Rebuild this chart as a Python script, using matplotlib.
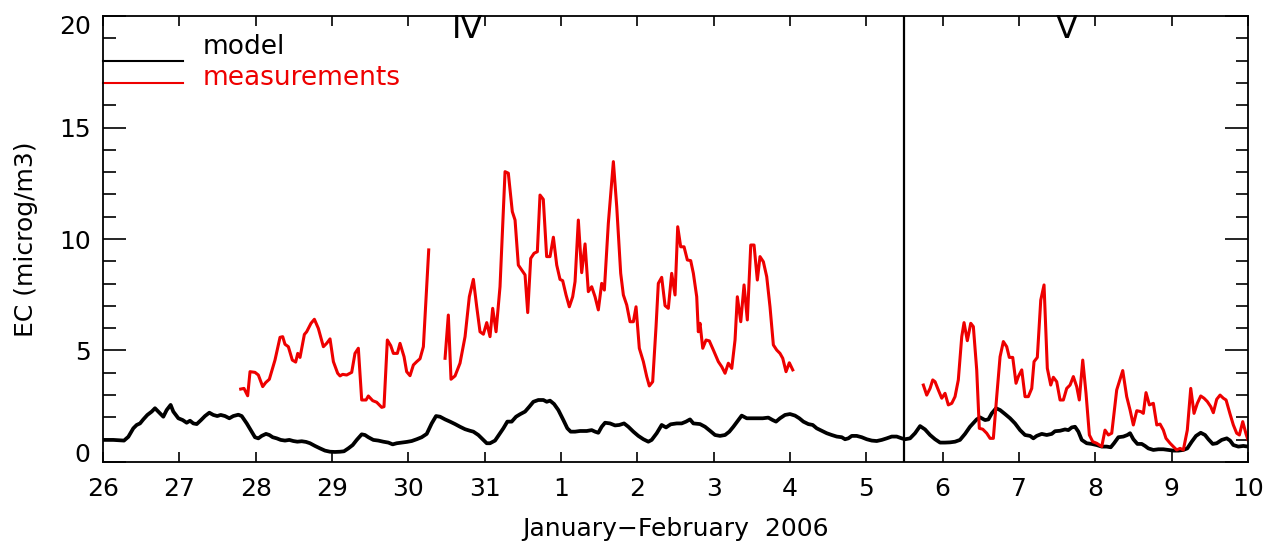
import numpy as np
import matplotlib.pyplot as plt
from matplotlib.transforms import ScaledTranslation

plt.rcParams['font.family'] = 'DejaVu Sans'

# time axis: days since 26 January 2006 00:00
day_labels = ['26', '27', '28', '29', '30', '31', '1', '2', '3', '4',
              '5', '6', '7', '8', '9', '10']

# modelled EC (microg/m3), (day, value)
model = [
    (0.00, 0.99), (0.135, 0.99), (0.275, 0.96), (0.332, 1.13), (0.397, 1.51),
    (0.441, 1.66), (0.485, 1.73), (0.528, 1.91), (0.581, 2.11), (0.638, 2.26),
    (0.681, 2.41), (0.738, 2.21), (0.790, 2.03), (0.834, 2.33), (0.886, 2.56),
    (0.921, 2.26), (0.987, 1.96), (1.044, 1.88), (1.096, 1.76), (1.140, 1.85),
    (1.183, 1.73), (1.228, 1.70), (1.284, 1.88), (1.336, 2.06), (1.393, 2.21),
    (1.445, 2.11), (1.497, 2.06), (1.542, 2.11), (1.598, 2.06), (1.655, 1.96),
    (1.707, 2.06), (1.773, 2.12), (1.817, 2.06), (1.883, 1.73), (1.935, 1.43),
    (1.991, 1.11), (2.035, 1.06), (2.079, 1.17), (2.135, 1.26), (2.179, 1.21),
    (2.223, 1.11), (2.276, 1.06), (2.328, 0.99), (2.384, 0.96), (2.441, 0.99),
    (2.493, 0.94), (2.546, 0.91), (2.603, 0.93), (2.660, 0.90), (2.712, 0.84),
    (2.777, 0.72), (2.843, 0.61), (2.908, 0.51), (2.974, 0.46), (3.039, 0.45),
    (3.105, 0.46), (3.157, 0.48), (3.214, 0.61), (3.271, 0.76), (3.324, 0.99),
    (3.389, 1.24), (3.432, 1.21), (3.476, 1.11), (3.541, 0.99), (3.607, 0.96),
    (3.672, 0.91), (3.738, 0.87), (3.795, 0.79), (3.848, 0.84), (3.913, 0.87),
    (3.979, 0.90), (4.044, 0.94), (4.110, 1.02), (4.175, 1.11), (4.241, 1.26),
    (4.306, 1.73), (4.363, 2.06), (4.415, 2.03), (4.481, 1.91), (4.546, 1.81),
    (4.612, 1.70), (4.677, 1.58), (4.743, 1.47), (4.808, 1.40), (4.852, 1.36),
    (4.917, 1.21), (4.974, 1.02), (5.027, 0.84), (5.070, 0.84), (5.136, 0.96),
    (5.201, 1.29), (5.245, 1.51), (5.297, 1.81), (5.354, 1.81), (5.411, 2.03),
    (5.463, 2.14), (5.529, 2.26), (5.585, 2.48), (5.638, 2.70), (5.703, 2.78),
    (5.769, 2.78), (5.813, 2.70), (5.856, 2.75), (5.909, 2.60), (5.965, 2.33),
    (6.031, 1.88), (6.083, 1.51), (6.127, 1.36), (6.184, 1.36), (6.249, 1.39),
    (6.337, 1.39), (6.402, 1.43), (6.446, 1.36), (6.489, 1.31), (6.533, 1.58),
    (6.577, 1.76), (6.642, 1.73), (6.708, 1.64), (6.764, 1.66), (6.826, 1.73),
    (6.882, 1.58), (6.948, 1.36), (7.013, 1.17), (7.079, 1.02), (7.144, 0.91),
    (7.188, 0.99), (7.254, 1.29), (7.319, 1.66), (7.376, 1.55), (7.437, 1.69),
    (7.516, 1.73), (7.581, 1.73), (7.638, 1.81), (7.690, 1.91), (7.734, 1.73),
    (7.821, 1.70), (7.887, 1.58), (7.952, 1.40), (8.018, 1.21), (8.083, 1.17),
    (8.149, 1.21), (8.205, 1.36), (8.258, 1.58), (8.323, 1.88), (8.367, 2.08),
    (8.433, 1.96), (8.498, 1.96), (8.564, 1.96), (8.643, 1.96), (8.716, 1.99),
    (8.773, 1.88), (8.817, 1.81), (8.869, 1.96), (8.935, 2.11), (9.000, 2.15),
    (9.066, 2.08), (9.122, 1.96), (9.175, 1.81), (9.240, 1.70), (9.298, 1.66),
    (9.350, 1.51), (9.416, 1.40), (9.481, 1.29), (9.547, 1.21), (9.612, 1.14),
    (9.678, 1.11), (9.721, 1.02), (9.764, 1.06), (9.809, 1.17), (9.874, 1.17),
    (9.940, 1.11), (10.005, 1.02), (10.071, 0.96), (10.136, 0.94), (10.202, 0.99),
    (10.267, 1.06), (10.333, 1.14), (10.398, 1.14), (10.464, 1.06), (10.507, 1.02),
    (10.573, 1.06), (10.638, 1.29), (10.704, 1.61), (10.769, 1.46), (10.835, 1.21),
    (10.900, 1.02), (10.966, 0.87), (11.031, 0.87), (11.097, 0.88), (11.162, 0.91),
    (11.227, 0.99), (11.293, 1.26), (11.358, 1.58), (11.446, 1.91), (11.490, 2.00),
    (11.555, 1.88), (11.599, 1.91), (11.643, 2.18), (11.699, 2.41), (11.752, 2.33),
    (11.817, 2.15), (11.883, 1.96), (11.948, 1.73), (12.014, 1.43), (12.079, 1.21),
    (12.145, 1.17), (12.188, 1.06), (12.232, 1.17), (12.298, 1.26), (12.363, 1.21),
    (12.429, 1.26), (12.472, 1.38), (12.538, 1.40), (12.603, 1.46), (12.647, 1.43),
    (12.691, 1.55), (12.734, 1.58), (12.778, 1.36), (12.822, 0.99), (12.887, 0.84),
    (12.953, 0.81), (13.018, 0.76), (13.084, 0.69), (13.149, 0.69), (13.202, 0.66),
    (13.245, 0.84), (13.302, 1.11), (13.367, 1.14), (13.420, 1.21), (13.455, 1.29),
    (13.498, 1.02), (13.551, 0.81), (13.608, 0.81), (13.651, 0.72), (13.694, 0.61),
    (13.760, 0.54), (13.826, 0.57), (13.891, 0.57), (13.957, 0.54), (14.022, 0.51),
    (14.088, 0.51), (14.153, 0.54), (14.205, 0.61), (14.263, 0.91), (14.319, 1.17),
    (14.381, 1.31), (14.437, 1.21), (14.481, 1.02), (14.538, 0.81), (14.590, 0.84),
    (14.656, 0.99), (14.722, 1.06), (14.765, 0.96), (14.808, 0.76), (14.874, 0.69),
    (14.939, 0.72), (15.00, 0.69),
]

# measured EC, three periods with data
meas_a = [
    (1.804, 3.27), (1.847, 3.30), (1.895, 2.97), (1.926, 4.05), (1.991, 4.02),
    (2.035, 3.90), (2.092, 3.38), (2.131, 3.56), (2.179, 3.71), (2.253, 4.57),
    (2.319, 5.59), (2.354, 5.62), (2.384, 5.28), (2.428, 5.17), (2.480, 4.57),
    (2.524, 4.48), (2.551, 4.87), (2.581, 4.69), (2.638, 5.72), (2.668, 5.84),
    (2.725, 6.22), (2.769, 6.40), (2.821, 5.99), (2.887, 5.17), (2.930, 5.32),
    (2.974, 5.52), (3.018, 4.50), (3.074, 3.98), (3.105, 3.86), (3.140, 3.93),
    (3.192, 3.90), (3.258, 4.02), (3.301, 4.87), (3.345, 5.10), (3.389, 2.78),
    (3.446, 2.78), (3.476, 2.96), (3.533, 2.75), (3.585, 2.68), (3.651, 2.45),
    (3.681, 2.48), (3.725, 5.47), (3.769, 5.22), (3.804, 4.87), (3.856, 4.87),
    (3.891, 5.32), (3.944, 4.72), (3.978, 4.05), (4.022, 3.87), (4.066, 4.35),
    (4.110, 4.50), (4.153, 4.63), (4.197, 5.17), (4.267, 9.51),
]

meas_b = [
    (4.481, 4.65), (4.524, 6.59), (4.559, 3.71), (4.612, 3.86), (4.677, 4.43),
    (4.743, 5.62), (4.799, 7.41), (4.852, 8.19), (4.896, 6.96), (4.939, 5.84),
    (4.983, 5.73), (5.027, 6.25), (5.070, 5.62), (5.105, 6.89), (5.149, 5.84),
    (5.201, 7.86), (5.267, 13.02), (5.310, 12.95), (5.362, 11.23), (5.398, 10.85),
    (5.441, 8.83), (5.485, 8.61), (5.529, 8.39), (5.564, 6.70), (5.603, 9.13),
    (5.647, 9.36), (5.690, 9.43), (5.725, 11.97), (5.768, 11.78), (5.812, 9.21),
    (5.856, 9.21), (5.900, 10.08), (5.944, 8.83), (5.987, 8.19), (6.022, 8.13),
    (6.066, 7.49), (6.109, 6.96), (6.153, 7.41), (6.184, 8.09), (6.227, 10.85),
    (6.271, 8.49), (6.315, 9.78), (6.358, 7.64), (6.402, 7.86), (6.446, 7.41),
    (6.489, 6.82), (6.533, 8.01), (6.568, 7.71), (6.620, 10.70), (6.686, 13.47),
    (6.730, 11.45), (6.782, 8.46), (6.817, 7.49), (6.861, 7.04), (6.904, 6.29),
    (6.948, 6.29), (6.983, 6.96), (7.026, 5.10), (7.079, 4.50), (7.123, 3.83),
    (7.157, 3.41), (7.201, 3.60), (7.245, 6.07), (7.275, 8.01), (7.319, 8.28),
    (7.363, 7.01), (7.406, 6.89), (7.450, 8.46), (7.494, 7.49), (7.529, 10.55),
    (7.568, 9.65), (7.612, 9.65), (7.655, 9.06), (7.699, 9.03), (7.734, 8.46),
    (7.778, 7.41), (7.799, 5.84), (7.821, 6.22), (7.857, 5.10), (7.900, 5.47),
    (7.943, 5.43), (7.996, 5.02), (8.061, 4.50), (8.106, 4.27), (8.149, 3.98),
    (8.192, 4.43), (8.237, 4.20), (8.280, 5.47), (8.310, 7.41), (8.355, 6.29),
    (8.398, 7.94), (8.441, 6.37), (8.486, 9.73), (8.529, 9.73), (8.572, 8.16),
    (8.607, 9.21), (8.651, 8.98), (8.695, 8.31), (8.738, 6.96), (8.782, 5.25),
    (8.826, 5.02), (8.869, 4.87), (8.905, 4.65), (8.948, 4.05), (8.991, 4.45),
    (9.036, 4.13),
]

meas_c = [
    (10.747, 3.45), (10.791, 3.00), (10.835, 3.30), (10.870, 3.68), (10.900, 3.60),
    (10.943, 3.23), (10.988, 2.86), (11.031, 3.08), (11.074, 2.56), (11.119, 2.63),
    (11.162, 2.93), (11.205, 3.68), (11.250, 5.62), (11.280, 6.25), (11.323, 5.44),
    (11.368, 6.22), (11.402, 6.07), (11.446, 4.13), (11.480, 1.51), (11.525, 1.47),
    (11.577, 1.29), (11.621, 1.06), (11.664, 1.06), (11.708, 2.93), (11.752, 4.72),
    (11.795, 5.40), (11.839, 5.17), (11.873, 4.69), (11.918, 4.69), (11.961, 3.53),
    (11.991, 3.83), (12.036, 4.13), (12.079, 2.93), (12.122, 2.93), (12.167, 3.30),
    (12.197, 4.50), (12.240, 4.69), (12.285, 7.26), (12.328, 7.94), (12.371, 4.20),
    (12.416, 3.45), (12.450, 3.80), (12.494, 3.60), (12.538, 2.78), (12.581, 2.78),
    (12.625, 3.30), (12.669, 3.45), (12.712, 3.83), (12.756, 3.38), (12.790, 2.78),
    (12.835, 4.57), (12.878, 3.08), (12.922, 1.21), (12.966, 0.91), (13.018, 0.84),
    (13.084, 0.69), (13.127, 1.43), (13.171, 1.21), (13.215, 1.29), (13.280, 3.23),
    (13.359, 4.10), (13.411, 2.93), (13.455, 2.33), (13.498, 1.66), (13.543, 2.30),
    (13.595, 2.26), (13.629, 2.18), (13.664, 3.11), (13.708, 2.56), (13.760, 2.63),
    (13.805, 1.66), (13.848, 1.70), (13.891, 1.43), (13.926, 1.06), (13.979, 0.84),
    (14.022, 0.69), (14.066, 0.54), (14.110, 0.61), (14.153, 0.54), (14.205, 1.43),
    (14.250, 3.30), (14.293, 2.18), (14.336, 2.63), (14.381, 2.96), (14.424, 2.86),
    (14.467, 2.71), (14.512, 2.48), (14.546, 2.21), (14.590, 2.81), (14.634, 3.00),
    (14.677, 2.86), (14.713, 2.78), (14.765, 2.15), (14.808, 1.66), (14.852, 1.29),
    (14.887, 1.21), (14.931, 1.81), (14.974, 1.26), (15.00, 0.99),
]

red = '#ee0000'

fig = plt.figure(figsize=(12.67, 5.43), dpi=100)
ax = fig.add_axes([0.0813, 0.1492, 0.9037, 0.8213])

t, ec = zip(*model)
ax.plot(t, ec, color='black', lw=2.7, solid_joinstyle='round')
for seg in (meas_a, meas_b, meas_c):
    t, ec = zip(*seg)
    ax.plot(t, ec, color=red, lw=2.2, solid_joinstyle='round')

# split between period IV and V
ax.axvline(10.5, color='black', lw=1.6)
ax.text(4.77, 19.0, 'IV', ha='center', va='baseline', fontsize=23)
ax.text(12.62, 19.0, 'V', ha='center', va='baseline', fontsize=23)

# legend drawn by hand in the top left corner
ax.plot([0, 1.05], [18, 18], color='black', lw=1.5, clip_on=False)
ax.plot([0, 1.05], [17, 17], color=red, lw=1.5, clip_on=False)
ax.text(1.30, 18.3, 'model', color='black', fontsize=19, va='baseline')
ax.text(1.30, 16.9, 'measurements', color=red, fontsize=19, va='baseline')

ax.set_xlim(0, 15)
ax.set_ylim(0, 20)
ax.set_xticks(np.arange(16))
ax.set_xticklabels(day_labels)
ax.set_yticks([0, 5, 10, 15, 20])
ax.set_yticks(np.arange(0, 21), minor=True)
ax.tick_params(axis='x', direction='in', top=True, length=7, width=1.2,
               labelsize=18, pad=11)
ax.tick_params(axis='y', which='major', direction='in', right=True,
               length=16.5, width=1.2, labelsize=18, pad=9)
ax.tick_params(axis='y', which='minor', direction='in', right=True,
               length=9, width=1.2)
for sp in ax.spines.values():
    sp.set_linewidth(1.3)

# pull the end labels of the y axis inside the frame
ylabs = ax.yaxis.get_majorticklabels()
ylabs[0].set_transform(ylabs[0].get_transform()
                       + ScaledTranslation(0, 7 / 72, fig.dpi_scale_trans))
ylabs[-1].set_transform(ylabs[-1].get_transform()
                        + ScaledTranslation(0, -6 / 72, fig.dpi_scale_trans))

ax.set_xlabel('January\u2212February  2006', fontsize=18, labelpad=11)
ax.set_ylabel('EC (microg/m3)', fontsize=18, labelpad=15)

fig.savefig('out.png', dpi=100)
